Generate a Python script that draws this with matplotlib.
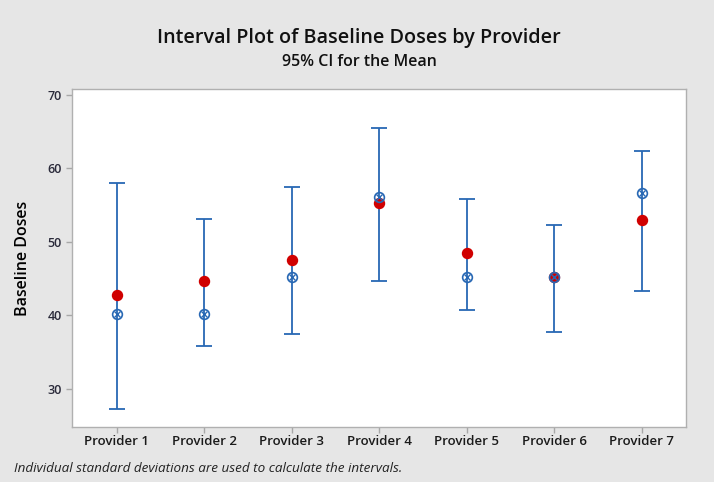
import numpy as np
import matplotlib
matplotlib.use("Agg")
import matplotlib.pyplot as plt

plt.rcParams['font.family'] = ['Open Sans', 'DejaVu Sans']

# values
providers = ['Provider 1', 'Provider 2', 'Provider 3', 'Provider 4',
             'Provider 5', 'Provider 6', 'Provider 7']
ci_lower = [27.3, 35.85, 37.45, 44.7, 40.8, 37.75, 43.3]
ci_upper = [58.0, 53.1, 57.5, 65.5, 55.85, 52.3, 62.4]
mean_values = [40.25, 40.25, 45.2, 56.1, 45.2, 45.2, 56.7]
red_points = [42.8, 44.65, 47.55, 55.3, 48.5, 45.2, 53.0]
y_ticks = [30, 40, 50, 60, 70]

blue = '#2868b4'
red = '#d00000'
bg = '#e6e6e6'

x = np.arange(1, len(providers) + 1)
lower = np.array(ci_lower)
upper = np.array(ci_upper)
mid = (lower + upper) / 2

fig = plt.figure(figsize=(7.14, 4.82), dpi=100, facecolor=bg)
ax = fig.add_axes([72 / 714, 1 - 427 / 482, (686 - 72) / 714, (427 - 89) / 482])
ax.set_facecolor('white')

# interval bars
ax.errorbar(x, mid, yerr=[mid - lower, upper - mid], fmt='none',
            ecolor=blue, elinewidth=1.3, capsize=5.8, capthick=1.3, zorder=2)

ax.plot(x, red_points, 'o', color=red, markersize=7.2, zorder=3, linestyle='none')
ax.plot(x, mean_values, 'o', markerfacecolor='none', markeredgecolor=blue,
        markeredgewidth=1.2, markersize=7.0, zorder=4, linestyle='none')
ax.plot(x, mean_values, 'x', color=blue, markeredgewidth=1.0, markersize=3.8,
        zorder=4, linestyle='none')

ax.set_xlim(0.487, 7.507)
ax.set_ylim(24.83, 70.78)
ax.set_xticks(x)
ax.set_xticklabels(providers, fontsize=9.5, fontweight='semibold', color='#1a1a1a')
ax.set_yticks(y_ticks)
ax.set_yticklabels([str(t) for t in y_ticks], fontsize=9, fontweight='semibold',
                   color='#2a2a3a')
ax.tick_params(axis='both', direction='out', length=4, color='#a8a8a8', width=1)
ax.tick_params(axis='x', pad=2)
for s in ax.spines.values():
    s.set_color('#b0b0b0')
    s.set_linewidth(1.0)

ax.set_ylabel('Baseline Doses', fontsize=11.5, fontweight='semibold', labelpad=12)

fig.text(0.503, 1 - 38 / 482, 'Interval Plot of Baseline Doses by Provider',
         ha='center', va='center', fontsize=14.2, fontweight='semibold', color='#111111')
fig.text(0.503, 1 - 62 / 482, '95% CI for the Mean', ha='center', va='center',
         fontsize=11.5, fontweight='semibold', color='#111111')
fig.text(14 / 714, 1 - 468 / 482,
         'Individual standard deviations are used to calculate the intervals.',
         ha='left', va='center', fontsize=9.7, style='italic', color='#222222')

fig.savefig('out.png', dpi=100, facecolor=bg)
